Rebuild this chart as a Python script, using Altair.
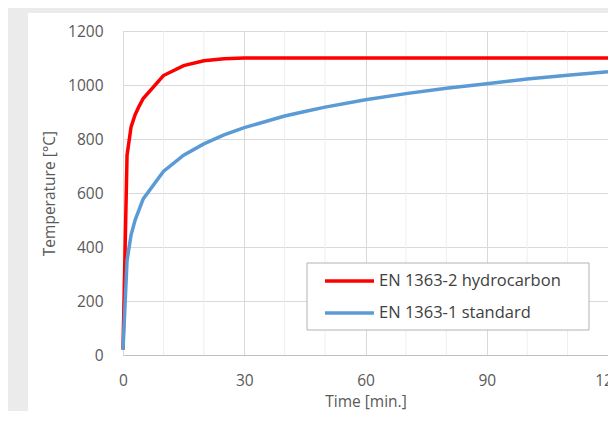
import altair as alt
import pandas as pd

# Hydrocarbon curve (EN 1363-2)
time_hc = [0, 1, 2, 3, 4, 5, 10, 15, 20, 25, 30, 60, 90, 120]
temp_hc = [20, 740, 845, 890, 922, 950, 1035, 1072, 1090, 1097, 1100, 1100, 1100, 1100]
# Standard curve (EN 1363-1)
time_std = [0, 1, 2, 3, 5, 10, 15, 20, 25, 30, 40, 45, 50, 60, 70, 80, 90, 100, 110, 120]
temp_std = [20, 350, 445, 500, 578, 680, 740, 782, 815, 842, 885, 902, 918, 945, 968, 988, 1005, 1022, 1036, 1049]
series = ["EN 1363-2 hydrocarbon", "EN 1363-1 standard"]
colors = ["#ff0000", "#5b9bd5"]
x_ticks = [0, 30, 60, 90, 120]
y_ticks = [0, 200, 400, 600, 800, 1000, 1200]
minor_x = [10, 20, 40, 50, 70, 80, 100, 110]

rows = []
for t, v in zip(time_hc, temp_hc):
    rows.append({"time": t, "temp": v, "series": series[0], "order": 0})
for t, v in zip(time_std, temp_std):
    rows.append({"time": t, "temp": v, "series": series[1], "order": 1})
df = pd.DataFrame(rows)

FONT = "Open Sans"
xscale = alt.Scale(domain=[0, 120], nice=False, zero=True)
yscale = alt.Scale(domain=[0, 1200], nice=False)

x_axis = alt.Axis(
    values=x_ticks,
    title="Time [min.]",
    grid=True,
    gridColor="#d9d9d9",
    ticks=False,
    domainColor="#bfbfbf",
    labelFlush=False,
    labelPadding=18,
    titlePadding=6,
)

dummy = pd.DataFrame({"a": [0]})
strip_left = alt.Chart(dummy).mark_rect(color="#ebebeb").encode(
    x=alt.value(-115), x2=alt.value(-95), y=alt.value(-23), y2=alt.value(392)
)
strip_top = alt.Chart(dummy).mark_rect(color="#ebebeb").encode(
    x=alt.value(-115), x2=alt.value(500), y=alt.value(-23), y2=alt.value(-18)
)

minor = alt.Chart(pd.DataFrame({"time": minor_x})).mark_rule(
    color="#eeeeee", strokeWidth=1
).encode(x=alt.X("time:Q", scale=xscale, axis=x_axis))

lines = alt.Chart(df).mark_line(strokeWidth=3.5).encode(
    x=alt.X("time:Q", scale=xscale, axis=x_axis),
    y=alt.Y(
        "temp:Q",
        scale=yscale,
        axis=alt.Axis(
            values=y_ticks,
            format="d",
            title="Temperature [°C]",
            grid=True,
            gridColor="#d9d9d9",
            ticks=False,
            domain=False,
            labelFlush=False,
            labelPadding=20,
            titlePadding=10,
        ),
    ),
    color=alt.Color(
        "series:N",
        scale=alt.Scale(domain=series, range=colors),
        legend=None,
    ),
    order="order:Q",
)

# legend (drawn as decoration)
legend_box = alt.Chart(dummy).mark_rect(
    fill="white", stroke="#b3b3b3", strokeWidth=1
).encode(x=alt.value(184), x2=alt.value(466), y=alt.value(232), y2=alt.value(299))

legend_layers = []
for i, (name, col) in enumerate(zip(series, colors)):
    yy = 250 + 32 * i
    legend_layers.append(
        alt.Chart(dummy).mark_rule(color=col, strokeWidth=3.5).encode(
            x=alt.value(202), x2=alt.value(251), y=alt.value(yy)
        )
    )
    legend_layers.append(
        alt.Chart(dummy).mark_text(
            text=name, align="left", baseline="middle", font=FONT,
            fontSize=16.5, color="#404040"
        ).encode(x=alt.value(256), y=alt.value(yy))
    )

chart = alt.layer(
    strip_left, strip_top, minor, lines, legend_box, *legend_layers
).properties(
    width=485,
    height=324,
    autosize=alt.AutoSizeParams(type="none"),
    padding={"left": 115, "top": 23, "right": 0, "bottom": 56},
    background="white",
).configure_view(stroke="#d9d9d9").configure_axis(
    labelFont=FONT,
    labelFontSize=15.5,
    labelColor="#595959",
    titleFont=FONT,
    titleFontSize=15.5,
    titleColor="#595959",
    titleFontWeight="normal",
)

chart.save("out.html", embed_options={"renderer": "svg", "actions": False})
